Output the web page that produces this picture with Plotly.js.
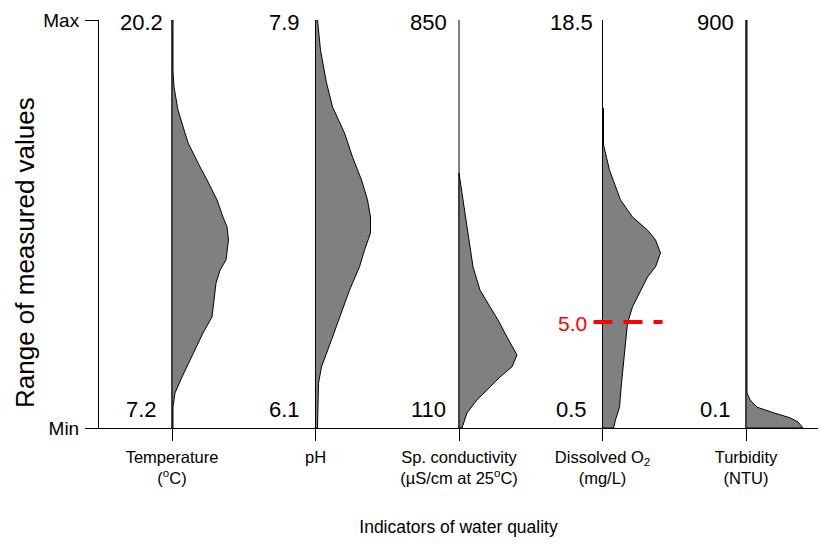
<!DOCTYPE html>
<html>
<head>
<meta charset="utf-8">
<script src="https://cdn.plot.ly/plotly-3.0.1.min.js"></script>
<style>
html,body{margin:0;padding:0;background:#fff;}
#chart{width:821px;height:546px;}
</style>
</head>
<body>
<div id="chart"></div>
<script>
// ---------------- DATA ----------------
const categories = [
  'Temperature<br>(<sup>o</sup>C)',
  'pH',
  'Sp. conductivity<br>(µS/cm at 25<sup>o</sup>C)',
  'Dissolved O<sub>2</sub><br>(mg/L)',
  'Turbidity<br>(NTU)'
];
const maxLabels = ['20.2', '7.9', '850', '18.5', '900'];
const minLabels = ['7.2', '6.1', '110', '0.5', '0.1'];
const yTickLabels = ['Min', 'Max'];
const xTitle = 'Indicators of water quality';
const yTitle = 'Range of measured values';

// density profiles: level (0 = Min, 1 = Max) and density (relative width)
const tempLevels  = [0, 0.051, 0.086, 0.125, 0.167, 0.208, 0.233, 0.272, 0.321, 0.355, 0.387, 0.412, 0.461, 0.493, 0.517, 0.559, 0.608, 0.640, 0.699, 0.779, 0.836, 0.873, 1.0];
const tempDensity = [1, 1, 3, 10, 18, 26, 31, 40, 42, 44, 48, 54, 56.5, 55, 51, 45, 35, 28, 16, 6, 2, 1, 1];

const phLevels  = [0, 0.110, 0.150, 0.216, 0.272, 0.338, 0.395, 0.436, 0.478, 0.517, 0.559, 0.608, 0.664, 0.723, 0.787, 0.846, 0.926, 1.0];
const phDensity = [2, 3, 6, 16, 24, 34, 44, 49, 55, 55, 52, 46, 37, 29, 17, 11, 5, 2];

const condLevels  = [0, 0.037, 0.069, 0.093, 0.125, 0.150, 0.179, 0.223, 0.265, 0.297, 0.338, 0.395, 0.478, 0.559, 0.625];
const condDensity = [3, 8, 18, 28, 41, 53, 58, 48, 39, 31, 21, 14, 9, 4, 0];

const doLevels  = [0, 0.020, 0.051, 0.110, 0.191, 0.257, 0.297, 0.331, 0.370, 0.395, 0.429, 0.461, 0.485, 0.517, 0.559, 0.632, 0.694, 0.784];
const doDensity = [11, 13, 17, 19, 22, 25, 30, 37, 45, 53, 58, 53, 45, 30, 18, 7, 1, 1];

const turbLevels  = [0, 0.015, 0.025, 0.037, 0.051, 0.069, 0.086, 1.0];
const turbDensity = [57, 52, 44, 28, 11, 4, 1, 1];

const doThresholdLabel = '5.0';
const doThresholdLevel = 0.26;

// ---------------- STYLE ----------------
const PX_PER_UNIT = 143.5;            // horizontal pixels per category step
const densityScale = 1 / PX_PER_UNIT; // density unit -> x units
const fillGray = '#808080';
const baseFamily = '"Liberation Sans", Arial, sans-serif';

const profiles = [
  [tempLevels, tempDensity],
  [phLevels, phDensity],
  [condLevels, condDensity],
  [doLevels, doDensity],
  [turbLevels, turbDensity]
];

const traces = [];
profiles.forEach(function (p, k) {
  const pos = k + 1;
  traces.push({
    type: 'scatter', mode: 'lines', x: [pos, pos], y: [0, 1],
    line: { color: '#000', width: 1 }, hoverinfo: 'skip', cliponaxis: false
  });
  const lv = p[0], d = p[1];
  const xs = [pos], ys = [0];
  for (let i = 0; i < lv.length; i++) {
    xs.push(pos + d[i] * densityScale);
    ys.push(lv[i]);
  }
  xs.push(pos); ys.push(lv[lv.length - 1]);
  xs.push(pos); ys.push(0);
  traces.push({
    type: 'scatter', mode: 'lines', x: xs, y: ys, fill: 'toself',
    fillcolor: fillGray, line: { color: '#000', width: 1 },
    hoverinfo: 'skip', cliponaxis: false
  });
});

const doPos = 4;
traces.push({
  type: 'scatter', mode: 'lines',
  x: [doPos - 9 * densityScale, doPos + 60 * densityScale],
  y: [doThresholdLevel, doThresholdLevel],
  line: { color: '#ff0000', width: 4, dash: '19px,11px' },
  hoverinfo: 'skip', cliponaxis: false
});

const annotations = [];
maxLabels.forEach(function (t, k) {
  annotations.push({ x: k + 1, y: 1, xref: 'x', yref: 'y', text: t, showarrow: false,
    xanchor: 'center', yanchor: 'middle', xshift: -31, yshift: -2.5,
    font: { family: baseFamily, size: 22, color: '#000' } });
});
minLabels.forEach(function (t, k) {
  annotations.push({ x: k + 1, y: 0, xref: 'x', yref: 'y', text: t, showarrow: false,
    xanchor: 'center', yanchor: 'middle', xshift: -31, yshift: 19,
    font: { family: baseFamily, size: 22, color: '#000' } });
});
annotations.push({ x: doPos, y: doThresholdLevel, xref: 'x', yref: 'y', text: doThresholdLabel,
  showarrow: false, xanchor: 'center', yanchor: 'middle', xshift: -30, yshift: -2,
  font: { family: baseFamily, size: 21, color: '#ff0000' } });
// y axis title (rotated annotation, to match the reference's vertical position)
annotations.push({ x: 0, y: 0.5, xref: 'paper', yref: 'paper', text: yTitle, showarrow: false,
  textangle: -90, xanchor: 'center', yanchor: 'middle', xshift: -74, yshift: -29,
  font: { family: baseFamily, size: 26, color: '#000' } });

const layout = {
  width: 821, height: 546,
  margin: { l: 99, r: 3, t: 20, b: 118, pad: 0 },
  paper_bgcolor: '#ffffff', plot_bgcolor: '#ffffff',
  showlegend: false,
  font: { family: baseFamily, color: '#000' },
  xaxis: {
    range: [1 - 73 / PX_PER_UNIT, 1 - 73 / PX_PER_UNIT + 719 / PX_PER_UNIT],
    tickmode: 'array', tickvals: [1, 2, 3, 4, 5], ticktext: categories,
    ticks: 'outside', ticklen: 12, tickwidth: 1, tickcolor: '#000',
    showline: true, linecolor: '#000', linewidth: 1,
    showgrid: false, zeroline: false, fixedrange: true,
    tickfont: { family: baseFamily, size: 16.5, color: '#000' },
    ticklabelstandoff: 2,
    title: { text: xTitle, font: { family: baseFamily, size: 17.5, color: '#000' }, standoff: 34 }
  },
  yaxis: {
    range: [0, 1],
    tickmode: 'array', tickvals: [0, 1], ticktext: yTickLabels,
    ticks: 'outside', ticklen: 13, tickwidth: 1, tickcolor: '#000',
    showline: true, linecolor: '#000', linewidth: 1,
    showgrid: false, zeroline: false, fixedrange: true,
    tickfont: { family: baseFamily, size: 19, color: '#000' },
    ticklabelstandoff: 2
  },
  annotations: annotations
};

Plotly.newPlot('chart', traces, layout, { staticPlot: true, displayModeBar: false });
</script>
</body>
</html>
